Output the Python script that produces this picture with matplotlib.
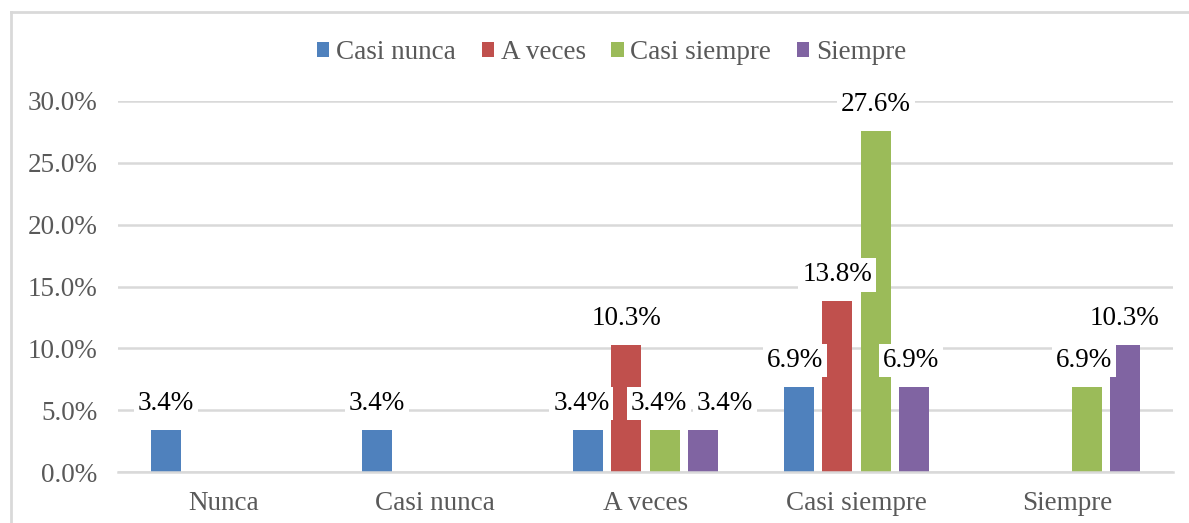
import numpy as np
import matplotlib.pyplot as plt
from matplotlib.lines import Line2D

categories = ["Nunca", "Casi nunca", "A veces", "Casi siempre", "Siempre"]
series = ["Casi nunca", "A veces", "Casi siempre", "Siempre"]
casi_nunca = [3.4, 3.4, 3.4, 6.9, 0.0]
a_veces = [0.0, 0.0, 10.3, 13.8, 0.0]
casi_siempre = [0.0, 0.0, 3.4, 27.6, 6.9]
siempre = [0.0, 0.0, 3.4, 6.9, 10.3]
yticks = [0, 5, 10, 15, 20, 25, 30]

colors = ["#4f81bd", "#c0504d", "#9bbb59", "#8064a2"]
values = [casi_nunca, a_veces, casi_siempre, siempre]

# label nudges (points) so crowded labels don't collide, like Excel does
nudge = {(0, 2): -5, (2, 2): -4, (3, 2): 16, (0, 3): -3, (3, 3): -2, (2, 4): -2}

plt.rcParams['font.family'] = ['Liberation Serif', 'DejaVu Serif']
fs = 19.5

fig = plt.figure(figsize=(11.89, 5.23), dpi=100)
ax = fig.add_axes([118 / 1189, 51 / 523, 1055 / 1189, 371 / 523])

x = np.arange(len(categories))
step = 0.181
width = 0.142
for i, (name, vals, c) in enumerate(zip(series, values, colors)):
    pos = x + (i - 1.5) * step
    ax.bar(pos, vals, width, color=c, label=name, zorder=2)
    for j, (p, v) in enumerate(zip(pos, vals)):
        if v > 0:
            ax.annotate(f"{v:.1f}%", (p, v), xytext=(nudge.get((i, j), 0), 19),
                        textcoords="offset points",
                        ha="center", va="center", fontsize=fs, color="black", zorder=4,
                        bbox=dict(boxstyle="square,pad=0.15", fc="white", ec="none"))

ax.set_xlim(-0.5, 4.5)
ax.set_ylim(0, 30)
ax.set_yticks(yticks)
ax.set_yticklabels([f"{t:.1f}%" for t in yticks])
ax.set_xticks(x)
ax.set_xticklabels(categories)
ax.yaxis.grid(True, color="#d9d9d9", linewidth=1.8, zorder=0)
ax.set_axisbelow(True)
for s in ["top", "right", "left"]:
    ax.spines[s].set_visible(False)
ax.spines["bottom"].set_color("#d9d9d9")
ax.spines["bottom"].set_linewidth(1.8)
ax.tick_params(axis="both", length=0, labelsize=fs, labelcolor="#595959")
ax.tick_params(axis="y", pad=15)
ax.tick_params(axis="x", pad=14)

ax.legend(loc="center", bbox_to_anchor=(0.468, 1.13), ncol=4, frameon=False,
          fontsize=fs, labelcolor="#595959", handlelength=0.45, handleheight=0.45,
          handletextpad=0.25, columnspacing=0.95)

# outer frame (top and left edges visible)
fig.add_artist(Line2D([11 / 1189, 1], [1 - 12 / 523, 1 - 12 / 523], color="#d9d9d9",
                      linewidth=2, transform=fig.transFigure))
fig.add_artist(Line2D([11 / 1189, 11 / 1189], [0, 1 - 12 / 523], color="#d9d9d9",
                      linewidth=2, transform=fig.transFigure))

fig.savefig("out.png", dpi=100)
